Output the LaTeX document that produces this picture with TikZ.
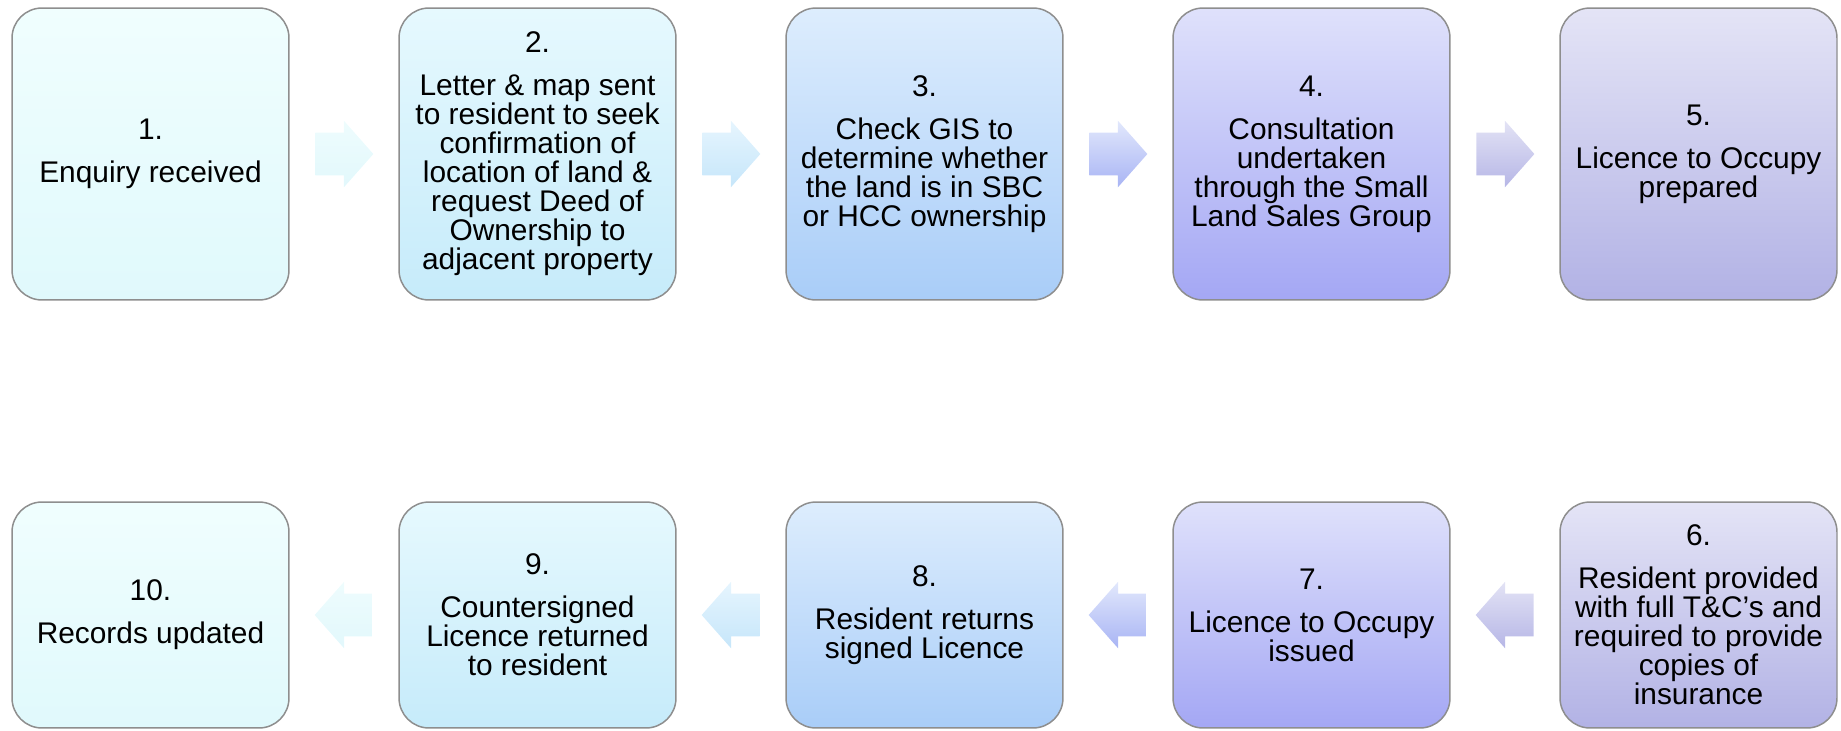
\documentclass[tikz,border=0pt]{standalone}
\usepackage{fontspec}
\setmainfont{Liberation Sans}
\usetikzlibrary{shapes.arrows,calc}
\definecolor{boxline}{HTML}{8E8E8E}
\definecolor{cAt}{HTML}{F0FEFE}\definecolor{cAb}{HTML}{E0F9FC}
\definecolor{cBt}{HTML}{E6F9FE}\definecolor{cBb}{HTML}{C6EBFA}
\definecolor{cCt}{HTML}{DDEDFD}\definecolor{cCb}{HTML}{A9CDF8}
\definecolor{cDt}{HTML}{DFE1FB}\definecolor{cDb}{HTML}{A4A7F4}
\definecolor{cEt}{HTML}{E4E4F6}\definecolor{cEb}{HTML}{B2B2E5}
\definecolor{aAt}{HTML}{EEFCFD}\definecolor{aAb}{HTML}{E2F8FC}
\definecolor{aBt}{HTML}{E6F5FE}\definecolor{aBb}{HTML}{C6E6FA}
\definecolor{aCt}{HTML}{E2E8FC}\definecolor{aCb}{HTML}{A8B4F4}
\definecolor{aDt}{HTML}{E3E3F5}\definecolor{aDb}{HTML}{B6B6E6}
\tikzset{
  stepbox/.style={draw=boxline, line width=0.85pt, rounded corners=0.6cm,
    minimum width=5.54cm, align=center, inner sep=0pt,
    font=\fontsize{17}{16.5}\selectfont},
  toprow/.style={stepbox, minimum height=5.84cm},
  botrow/.style={stepbox, minimum height=4.52cm},
  flowarr/.style={single arrow, draw=none, single arrow head extend=0.24cm,
    single arrow tip angle=97, minimum height=1.16cm, inner xsep=0pt,
    inner ysep=0.42cm, anchor=tail},
  shA/.style={top color=cAt, bottom color=cAb},
  shB/.style={top color=cBt, bottom color=cBb},
  shC/.style={top color=cCt, bottom color=cCb},
  shD/.style={top color=cDt, bottom color=cDb},
  shE/.style={top color=cEt, bottom color=cEb},
  arA/.style={top color=aAt, bottom color=aAb},
  arB/.style={top color=aBt, bottom color=aBb},
  arC/.style={top color=aCt, bottom color=aCb},
  arD/.style={top color=aDt, bottom color=aDb},
}
\begin{document}
\begin{tikzpicture}[x=0.02cm, y={(0,-0.02cm)}]
\useasboundingbox (0,0) rectangle (1841,730);
% top row
\node[toprow, shA] (b1) at (150.5,154) {1.\\[8pt]Enquiry received};
\node[toprow, shB] (b2) at (537.5,154) {2.\\[8pt]Letter \& map sent\\to resident to seek\\confirmation of\\location of land \&\\request Deed of\\Ownership to\\adjacent property};
\node[toprow, shC] (b3) at (924.5,154) {3.\\[8pt]Check GIS to\\determine whether\\the land is in SBC\\or HCC ownership};
\node[toprow, shD] (b4) at (1311.5,154) {4.\\[8pt]Consultation\\undertaken\\through the Small\\Land Sales Group};
\node[toprow, shE] (b5) at (1698.5,154) {5.\\[8pt]Licence to Occupy\\prepared};
% bottom row
\node[botrow, shE] (b6) at (1698.5,615) {6.\\[8pt]Resident provided\\with full T\&C’s and\\required to provide\\copies of\\insurance};
\node[botrow, shD] (b7) at (1311.5,615) {7.\\[8pt]Licence to Occupy\\issued};
\node[botrow, shC] (b8) at (924.5,615) {8.\\[8pt]Resident returns\\signed Licence};
\node[botrow, shB] (b9) at (537.5,615) {9.\\[8pt]Countersigned\\Licence returned\\to resident};
\node[botrow, shA] (b10) at (150.5,615) {10.\\[8pt]Records updated};
% arrows top
\node[flowarr, arA] (a12) at ($(b1.east)!0.5!(b2.west)+(-29,0)$) {};
\node[flowarr, arB] (a23) at ($(b2.east)!0.5!(b3.west)+(-29,0)$) {};
\node[flowarr, arC] (a34) at ($(b3.east)!0.5!(b4.west)+(-29,0)$) {};
\node[flowarr, arD] (a45) at ($(b4.east)!0.5!(b5.west)+(-29,0)$) {};
% arrows bottom
\node[flowarr, arD, shape border rotate=180] (a67) at ($(b7.east)!0.5!(b6.west)+(29,0)$) {};
\node[flowarr, arC, shape border rotate=180] (a78) at ($(b8.east)!0.5!(b7.west)+(29,0)$) {};
\node[flowarr, arB, shape border rotate=180] (a89) at ($(b9.east)!0.5!(b8.west)+(29,0)$) {};
\node[flowarr, arA, shape border rotate=180] (a910) at ($(b10.east)!0.5!(b9.west)+(29,0)$) {};
\end{tikzpicture}
\end{document}
